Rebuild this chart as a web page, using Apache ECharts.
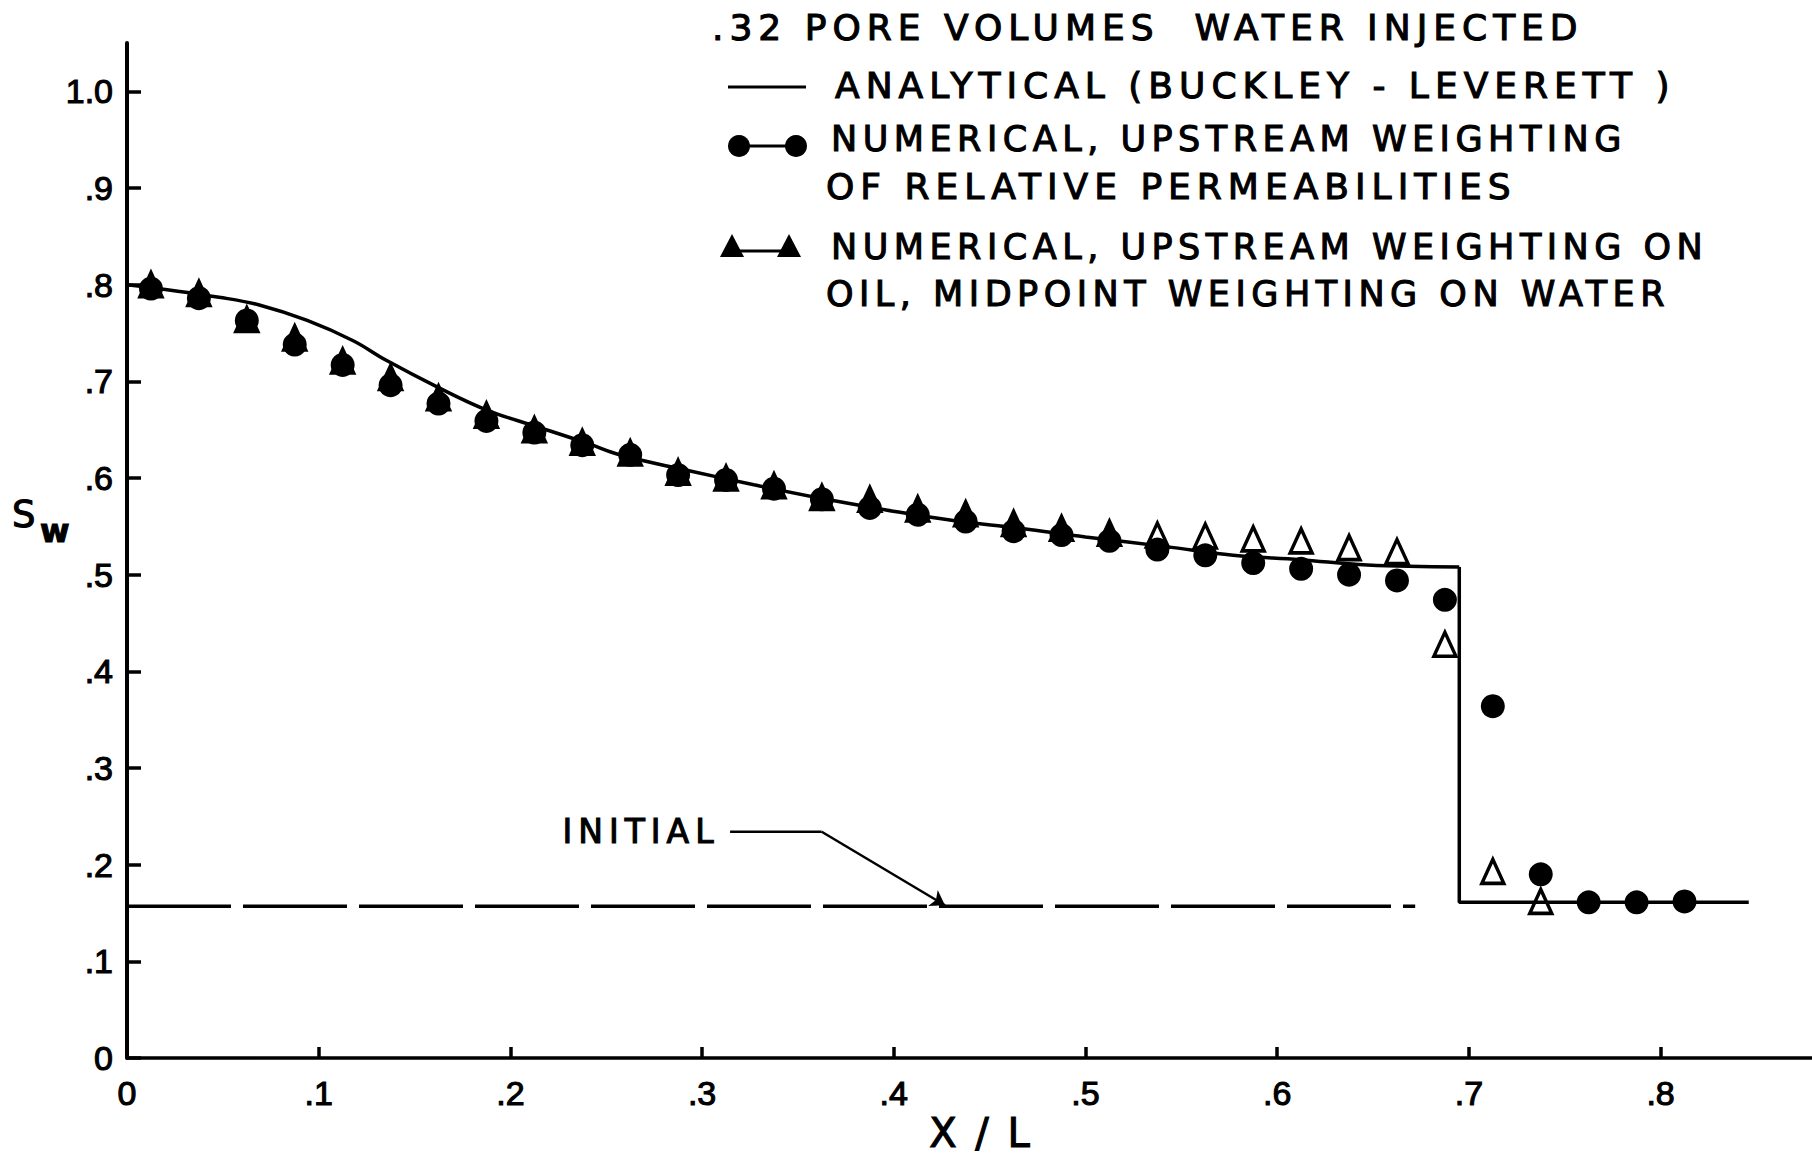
<!DOCTYPE html>
<html>
<head>
<meta charset="utf-8">
<title>Sw profile, .32 pore volumes injected</title>
<script src="https://cdn.jsdelivr.net/npm/echarts@6/dist/echarts.min.js"></script>
<style>
html, body { margin: 0; padding: 0; background: #fff; }
#chart { width: 1812px; height: 1174px; }
/* lettering in the original is spaced out and heavy */
#chart text { stroke: #000; stroke-width: 1.1px; }
#chart text[style*="36px"], #chart text[style*="33px"] { letter-spacing: 6px; }
#chart text[style*="35px"] { letter-spacing: 5.5px; }
#chart text[style*="40px"] { letter-spacing: 3px; }
</style>
</head>
<body>
<div id="chart"></div>
<script>
const xTickValues = [0, 0.1, 0.2, 0.3, 0.4, 0.5, 0.6, 0.7, 0.8]
const xTickLabels = ['0', '.1', '.2', '.3', '.4', '.5', '.6', '.7', '.8']
const yTickValues = [0, 0.1, 0.2, 0.3, 0.4, 0.5, 0.6, 0.7, 0.8, 0.9, 1.0]
const yTickLabels = ['0', '.1', '.2', '.3', '.4', '.5', '.6', '.7', '.8', '.9', '1.0']

// analytical (Buckley-Leverett) profile, rarefaction part
const blX = [0, 0.02, 0.048, 0.069, 0.094, 0.118, 0.135, 0.162, 0.188, 0.214, 0.24, 0.257,
  0.292, 0.327, 0.362, 0.396, 0.431, 0.466, 0.5, 0.542, 0.577, 0.612, 0.647, 0.695]
const blY = [0.8, 0.795, 0.787, 0.779, 0.763, 0.742, 0.722, 0.694, 0.67, 0.653, 0.636, 0.624,
  0.608, 0.593, 0.579, 0.567, 0.556, 0.548, 0.539, 0.529, 0.52, 0.5155, 0.51, 0.508]
// shock front and undisturbed zone
const shockX = [0.695, 0.695, 0.846]
const shockY = [0.508, 0.161, 0.161]

const initialX = [0, 0.672]
const initialY = [0.157, 0.157]
const leaderX = [0.3146, 0.3624, 0.4267]
const leaderY = [0.234, 0.234, 0.158]

// grid block centres
const gridX = [0.0125, 0.0375, 0.0625, 0.0875, 0.1125, 0.1375, 0.1625, 0.1875, 0.2125, 0.2375,
  0.2625, 0.2875, 0.3125, 0.3375, 0.3625, 0.3875, 0.4125, 0.4375, 0.4625, 0.4875,
  0.5125, 0.5375, 0.5625, 0.5875, 0.6125, 0.6375, 0.6625, 0.6875, 0.7125, 0.7375,
  0.7625, 0.7875, 0.8125]
const upstreamSw = [0.796, 0.786, 0.763, 0.738, 0.717, 0.696, 0.677, 0.659, 0.647, 0.634,
  0.624, 0.603, 0.598, 0.589, 0.578, 0.569, 0.562, 0.555, 0.545, 0.541,
  0.535, 0.526, 0.52, 0.512, 0.506, 0.5, 0.494, 0.474, 0.364, 0.19,
  0.161, 0.161, 0.162]
const midpointSw = [0.8, 0.791, 0.764, 0.745, 0.721, 0.704, 0.683, 0.665, 0.65, 0.637,
  0.626, 0.606, 0.6, 0.592, 0.58, 0.578, 0.568, 0.563, 0.553, 0.548,
  0.543, 0.541, 0.54, 0.537, 0.535, 0.528, 0.524, 0.428, 0.193, 0.162]

const FONT = 'DejaVu Sans'
const TICK_FONT = "'Liberation Sans Narrow', 'Liberation Sans'"
const INK = '#000'

const pickLabel = (ticks, labels) => (v) => {
  const i = ticks.findIndex((t) => Math.abs(t - v) < 1e-6)
  return i < 0 ? '' : labels[i]
}
const zip = (xs, ys) => xs.map((x, i) => [x, ys[i]])

const legendText = (text, x, y, size) => ({
  type: 'text',
  x: x,
  y: y,
  style: { text: text, fontSize: size, fontFamily: FONT, fill: INK, align: 'left', verticalAlign: 'middle' },
})
const tri = (cx, cy) => ({
  type: 'polygon',
  shape: { points: [[cx, cy - 12], [cx - 12, cy + 11], [cx + 12, cy + 11]] },
  style: { fill: INK },
})

const chart = echarts.init(document.getElementById('chart'), null, { renderer: 'svg' })
chart.setOption({
  animation: false,
  backgroundColor: '#fff',
  grid: { left: 127, right: 0, top: 43, bottom: 116, containLabel: false, outerBoundsMode: 'none' },
  xAxis: {
    type: 'value',
    min: 0,
    max: 0.879,
    axisLine: { lineStyle: { color: INK, width: 3.5 } },
    axisTick: { inside: true, length: 11, customValues: xTickValues, lineStyle: { color: INK, width: 3.5 } },
    axisLabel: {
      customValues: xTickValues,
      formatter: pickLabel(xTickValues, xTickLabels),
      margin: 18,
      fontSize: 34,
      fontFamily: TICK_FONT,
      color: INK,
    },
    splitLine: { show: false },
  },
  yAxis: {
    type: 'value',
    min: 0,
    max: 1.05,
    axisLine: { lineStyle: { color: INK, width: 4 } },
    axisTick: { inside: true, length: 14, customValues: yTickValues, lineStyle: { color: INK, width: 3.5 } },
    axisLabel: {
      customValues: yTickValues,
      formatter: pickLabel(yTickValues, yTickLabels),
      margin: 14,
      fontSize: 34,
      fontFamily: TICK_FONT,
      color: INK,
    },
    splitLine: { show: false },
  },
  graphic: [
    // axis titles
    { type: 'text', x: 981, y: 1133, style: { text: 'X / L', fontSize: 40, fontFamily: FONT, fill: INK, align: 'center', verticalAlign: 'middle' } },
    { type: 'text', x: 12, y: 514, style: { text: 'S', fontSize: 37, fontFamily: FONT, fill: INK, verticalAlign: 'middle' } },
    { type: 'text', x: 40, y: 531, style: { text: 'w', fontSize: 32, fontFamily: FONT, fontWeight: 'bold', fill: INK, verticalAlign: 'middle' } },
    // key
    legendText('.32 PORE VOLUMES  WATER INJECTED', 712, 27, 36),
    { type: 'line', shape: { x1: 728, y1: 87, x2: 806, y2: 87 }, style: { stroke: INK, lineWidth: 3 } },
    legendText('ANALYTICAL (BUCKLEY - LEVERETT )', 835, 85, 36),
    { type: 'line', shape: { x1: 739, y1: 146, x2: 796, y2: 146 }, style: { stroke: INK, lineWidth: 3 } },
    { type: 'circle', shape: { cx: 739, cy: 146, r: 11 }, style: { fill: INK } },
    { type: 'circle', shape: { cx: 796, cy: 146, r: 11 }, style: { fill: INK } },
    legendText('NUMERICAL, UPSTREAM WEIGHTING', 831, 139, 35),
    legendText('OF RELATIVE PERMEABILITIES', 826, 186, 36),
    { type: 'line', shape: { x1: 732, y1: 251, x2: 789, y2: 251 }, style: { stroke: INK, lineWidth: 3 } },
    tri(732, 246),
    tri(789, 246),
    legendText('NUMERICAL, UPSTREAM WEIGHTING ON', 831, 247, 35),
    legendText('OIL, MIDPOINT WEIGHTING ON WATER', 826, 294, 35),
  ],
  series: [
    {
      name: 'Initial',
      type: 'line',
      data: zip(initialX, initialY),
      showSymbol: false,
      lineStyle: { color: INK, width: 3.5, type: [104, 12] },
      silent: true,
    },
    {
      name: 'Initial leader',
      type: 'line',
      data: zip(leaderX, leaderY).slice(0, 2),
      showSymbol: false,
      lineStyle: { color: INK, width: 2.5 },
      markPoint: {
        silent: true,
        symbol: 'circle',
        symbolSize: 1,
        itemStyle: { color: 'rgba(0,0,0,0)' },
        label: {
          show: true,
          position: 'left',
          distance: 10,
          formatter: 'INITIAL',
          fontSize: 33,
          fontFamily: FONT,
          color: INK,
        },
        data: [{ coord: [leaderX[0], leaderY[0]] }],
      },
      markLine: {
        silent: true,
        symbol: ['none', 'arrow'],
        symbolSize: 14,
        label: { show: false },
        lineStyle: { color: INK, width: 2.5, type: 'solid' },
        data: [[{ coord: [leaderX[1], leaderY[1]] }, { coord: [leaderX[2], leaderY[2]] }]],
      },
      silent: true,
    },
    {
      name: 'Analytical (Buckley-Leverett)',
      type: 'line',
      data: zip(blX, blY),
      smooth: 0.4,
      showSymbol: false,
      lineStyle: { color: INK, width: 3.5 },
    },
    {
      name: 'Analytical (Buckley-Leverett)',
      type: 'line',
      data: zip(shockX, shockY),
      showSymbol: false,
      lineStyle: { color: INK, width: 3.5 },
    },
    {
      name: 'Numerical, upstream weighting of relative permeabilities',
      type: 'scatter',
      data: zip(gridX, upstreamSw),
      symbol: 'circle',
      symbolSize: 24,
      itemStyle: { color: INK, opacity: 1 },
    },
    {
      name: 'Numerical, upstream weighting on oil, midpoint weighting on water',
      type: 'scatter',
      data: zip(gridX.slice(0, midpointSw.length), midpointSw),
      symbol: 'triangle',
      symbolSize: [22, 24],
      itemStyle: {
        color: (p) => (p.data[0] < 0.525 ? INK : 'rgba(255,255,255,0)'),
        borderColor: INK,
        borderWidth: 3.5,
        opacity: 1,
      },
    },
  ],
})
</script>
</body>
</html>
